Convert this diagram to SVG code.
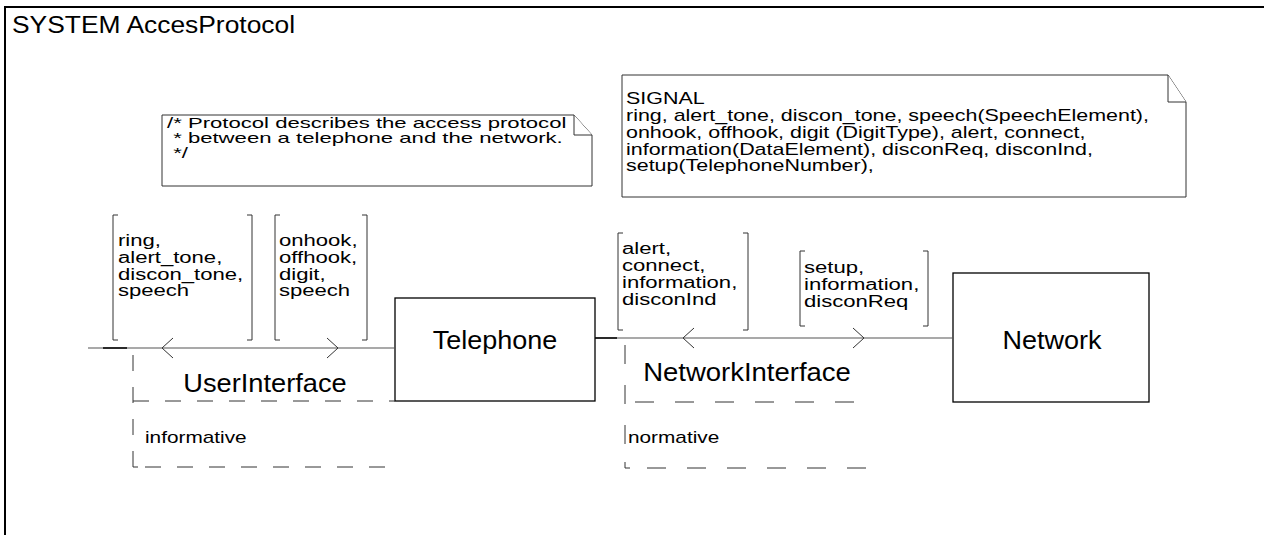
<svg xmlns="http://www.w3.org/2000/svg" width="1264" height="535" viewBox="0 0 1264 535">
<style>
text{font-family:"Liberation Sans",Arial,sans-serif;fill:#000}
.t24{font-size:24px}.t14{font-size:14px}.t16{font-size:16px}.t25{font-size:25px}
.box{fill:#fff;stroke:#000;stroke-width:1.3}
.note{fill:#fff;stroke:#333;stroke-width:1}
.ln{fill:none;stroke:#555;stroke-width:1.2}
.br{fill:none;stroke:#333;stroke-width:1}
.dash{fill:none;stroke:#333;stroke-width:1;stroke-dasharray:16 16}
.dash2{fill:none;stroke:#333;stroke-width:1;stroke-dasharray:19 21}
</style>
<rect width="1264" height="535" fill="#fff"/>
<path d="M5,535 V7 H1264" fill="none" stroke="#000" stroke-width="2"/>
<text class="t24" transform="translate(12 33) scale(1.1 1)">SYSTEM AccesProtocol</text>
<g id="comment">
<path class="note" d="M162,115 H574 L592,135 V186 H162 Z"/>
<path class="note" d="M574,115 V135 H592"/>
<text class="t14" transform="translate(167 0) scale(1.58 1)"><tspan x="0" y="128">/* Protocol describes the access protocol</tspan><tspan x="0" y="143"> * between a telephone and the network.</tspan><tspan x="0" y="158"> */</tspan></text>
</g>
<g id="signals">
<path class="note" d="M622,75 H1168 L1186,102 V197 H622 Z"/>
<path class="note" d="M1168,75 V102 H1186"/>
<text class="t16" transform="translate(626 0) scale(1.34 1)"><tspan x="0" y="104">SIGNAL</tspan><tspan x="0" y="121">ring, alert_tone, discon_tone, speech(SpeechElement),</tspan><tspan x="0" y="138">onhook, offhook, digit (DigitType), alert, connect,</tspan><tspan x="0" y="155">information(DataElement), disconReq, disconInd,</tspan><tspan x="0" y="171">setup(TelephoneNumber),</tspan></text>
</g>
<g id="Telephone">
<rect class="box" x="395" y="298" width="200" height="103"/>
<text class="t25" text-anchor="middle" transform="translate(495 349) scale(1.08 1)">Telephone</text>
</g>
<g id="Network">
<rect class="box" x="953" y="273" width="196" height="129"/>
<text class="t25" text-anchor="middle" transform="translate(1052 349) scale(1.08 1)">Network</text>
</g>
<g id="connectors">
<g id="UserInterface">
<path class="ln" d="M88,348 H395"/>
<path d="M103,348 H127" stroke="#000" stroke-width="1.5"/>
<path class="br" d="M173,338 L162,348 L173,358 M327,338 L338,348 L327,358"/>
<path class="br" d="M118,215 H113 V340 H118 M247,215 H252 V340 H247"/>
<text class="t16" transform="translate(118 0) scale(1.38 1)"><tspan x="0" y="246">ring,</tspan><tspan x="0" y="263">alert_tone,</tspan><tspan x="0" y="280">discon_tone,</tspan><tspan x="0" y="296">speech</tspan></text>
<path class="br" d="M280,215 H275 V340 H280 M362,215 H367 V340 H362"/>
<text class="t16" transform="translate(279 0) scale(1.38 1)"><tspan x="0" y="246">onhook,</tspan><tspan x="0" y="263">offhook,</tspan><tspan x="0" y="280">digit,</tspan><tspan x="0" y="296">speech</tspan></text>
<path class="dash" d="M133,355 V462"/>
<path class="br" d="M133,462 V467 H138"/>
<path class="dash" d="M133,401 H395"/>
<path class="dash" d="M145,467 H392"/>
<text class="t25" text-anchor="middle" transform="translate(265 392) scale(1.09 1)">UserInterface</text>
<text class="t16" transform="translate(145 443) scale(1.3 1)">informative</text>
</g>
<g id="NetworkInterface">
<path class="ln" d="M595,338 H953"/>
<path d="M595,338 H617" stroke="#000" stroke-width="1.5"/>
<path class="br" d="M694,328 L683,338 L694,348 M853,328 L864,338 L853,348"/>
<path class="br" d="M623,233 H618 V330 H623 M743,233 H748 V330 H743"/>
<text class="t16" transform="translate(622 0) scale(1.38 1)"><tspan x="0" y="254">alert,</tspan><tspan x="0" y="271">connect,</tspan><tspan x="0" y="288">information,</tspan><tspan x="0" y="305">disconInd</tspan></text>
<path class="br" d="M805,251 H800 V326 H805 M923,251 H928 V326 H923"/>
<text class="t16" transform="translate(804 0) scale(1.38 1)"><tspan x="0" y="273">setup,</tspan><tspan x="0" y="290">information,</tspan><tspan x="0" y="307">disconReq</tspan></text>
<path class="dash2" d="M625,345 V462"/>
<path class="br" d="M625,462 V468 H630"/>
<path class="dash2" d="M635,402 H860"/>
<path class="dash2" d="M647,468 H870"/>
<text class="t25" text-anchor="middle" transform="translate(747 381) scale(1.1 1)">NetworkInterface</text>
<text class="t16" transform="translate(628 443) scale(1.3 1)">normative</text>
</g>
</g>
</svg>
